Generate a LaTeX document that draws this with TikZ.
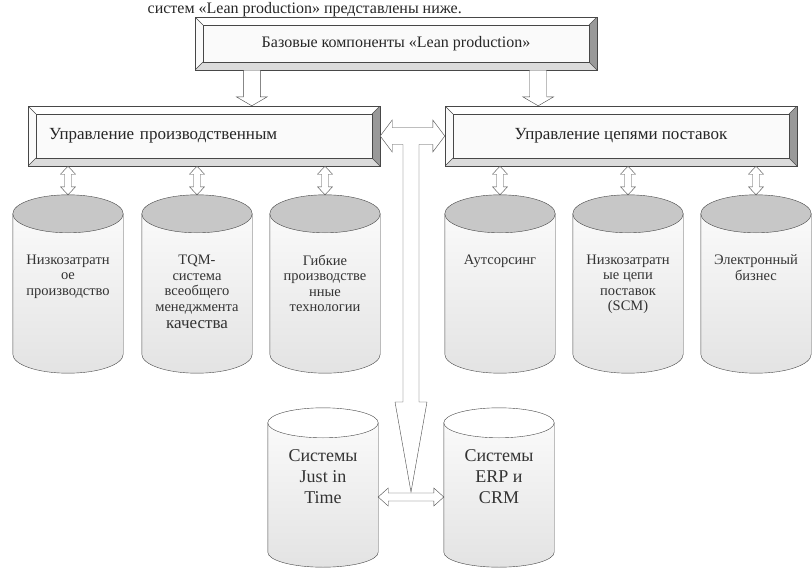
\documentclass[tikz,border=0pt]{standalone}
\usepackage{fontspec}
\setmainfont{Liberation Serif}
\usetikzlibrary{calc}

% cylinder drawn inside the box of a named node: name, y radius, end fill
\newcommand{\drum}[3]{%
  \path[draw=black!72, top color=black!2, bottom color=black!11]
    let \p1=(#1.north west), \p2=(#1.south east), \n1={0.5*(\x2-\x1)} in
    (\x1,\y1-#2pt) -- (\x1,\y2+#2pt)
    arc[start angle=180, end angle=360, x radius=\n1, y radius=#2pt]
    -- (\x2,\y1-#2pt) -- cycle;
  \path[draw=black!72, fill=#3]
    let \p1=(#1.north west), \p2=(#1.south east), \n1={0.5*(\x2-\x1)} in
    ({0.5*(\x1+\x2)},\y1-#2pt) ellipse [x radius=\n1, y radius=#2pt];
}

\begin{document}
\begin{tikzpicture}[x=1pt, y=-1pt,
  frame/.style={draw=black!72, fill=black!2, inner sep=0pt, text=black!85,
    path picture={
      \path (path picture bounding box.north west) coordinate (fa)
            (path picture bounding box.north east) coordinate (fb)
            (path picture bounding box.south east) coordinate (fc)
            (path picture bounding box.south west) coordinate (fd);
      \fill[black!40] (fb) -- (fc) -- ([shift={(-8pt,8pt)}]fc) -- ([shift={(-8pt,-8pt)}]fb) -- cycle;
      \fill[black!14] (fc) -- (fd) -- ([shift={(8pt,8pt)}]fd) -- ([shift={(-8pt,8pt)}]fc) -- cycle;
      \fill[white] (fa) -- (fb) -- ([shift={(-8pt,-8pt)}]fb) -- ([shift={(8pt,-8pt)}]fa) -- cycle;
      \draw[black!72] ([shift={(8pt,-8pt)}]fa) rectangle ([shift={(-8pt,8pt)}]fc);
      \draw[black!72] (fa) -- ++(8pt,-8pt) (fb) -- ++(-8pt,-8pt)
                      (fc) -- ++(-8pt,8pt) (fd) -- ++(8pt,8pt);
    }},
  slot/.style={inner sep=0pt, minimum width=110pt, minimum height=178pt},
  slotlow/.style={slot, minimum height=159pt},
  ctext/.style={align=center, inner sep=0pt, text=black!80,
    font=\fontsize{14.5}{15.5}\selectfont},
  btext/.style={align=center, inner sep=0pt, text=black!80,
    font=\fontsize{18}{21}\selectfont},
  blk/.style={draw=black!72, fill=white, line join=miter},
  dn/.style={to path={let \p1=(\tikztostart), \p2=(\tikztotarget) in
    (\x1-8.5pt,\y1) -- (\x1-8.5pt,\y2+9pt) -- (\x1-15.5pt,\y2+9pt) -- (\x1,\y2)
    -- (\x1+15.5pt,\y2+9pt) -- (\x1+8.5pt,\y2+9pt) -- (\x1+8.5pt,\y1) -- cycle}},
  vdbl/.style={to path={let \p1=(\tikztostart), \p2=(\tikztotarget) in
    (\x1,\y1) -- (\x1-7.5pt,\y1-8pt) -- (\x1-3.5pt,\y1-8pt) -- (\x1-3.5pt,\y2+8pt)
    -- (\x1-7.5pt,\y2+8pt) -- (\x1,\y2) -- (\x1+7.5pt,\y2+8pt) -- (\x1+3.5pt,\y2+8pt)
    -- (\x1+3.5pt,\y1-8pt) -- (\x1+7.5pt,\y1-8pt) -- cycle}},
  hdbl/.style={to path={let \p1=(\tikztostart), \p2=(\tikztotarget) in
    (\x1,\y1) -- (\x1+10pt,\y1+9pt) -- (\x1+10pt,\y1+4pt) -- (\x2-10pt,\y1+4pt)
    -- (\x2-10pt,\y1+9pt) -- (\x2,\y1) -- (\x2-10pt,\y1-9pt) -- (\x2-10pt,\y1-4pt)
    -- (\x1+10pt,\y1-4pt) -- (\x1+10pt,\y1-9pt) -- cycle}},
]
  \useasboundingbox[fill=white] (0,0) rectangle (812,570);

  \node[anchor=base east, inner sep=0pt, text=black!85,
        font=\fontsize{16}{19}\selectfont] (intro) at (462,13)
    {систем «Lean production» представлены ниже.};

  \node[frame, minimum width=402pt, minimum height=53pt,
        font=\fontsize{16}{18}\selectfont] (base) at (396,43.5)
    {Базовые компоненты «Lean production»};
  \node[frame, minimum width=352pt, minimum height=60pt, text width=310pt, align=left,
        font=\fontsize{17}{19}\selectfont] (lbox) at (204,136)
    {Управление производственным};
  \node[frame, minimum width=352pt, minimum height=60pt,
        font=\fontsize{17}{19}\selectfont] (rbox) at (621,136)
    {Управление цепями поставок};

  \node[slot] (c1) at (68,284) {};
  \node[slot] (c2) at (197,284) {};
  \node[slot] (c3) at (325,284) {};
  \node[slot] (c4) at (500,284) {};
  \node[slot] (c5) at (628,284) {};
  \node[slot] (c6) at (756,284) {};
  \foreach \c in {c1,c2,c3,c4,c5,c6} {\drum{\c}{19}{black!22}}

  \node[ctext, anchor=north] (t1) at ([yshift=-60pt]c1.north) {Низкозатратн\\ое\\производство};
  \node[ctext, anchor=north] (t2) at ([yshift=-60pt]c2.north)
    {TQM-\\система\\всеобщего\\менеджмента\\[2pt]{\fontsize{17}{19}\selectfont качества}};
  \node[ctext, anchor=north] (t3) at ([yshift=-60pt]c3.north) {Гибкие\\производстве\\нные\\технологии};
  \node[ctext, anchor=north] (t4) at ([yshift=-60pt]c4.north) {Аутсорсинг};
  \node[ctext, anchor=north] (t5) at ([yshift=-60pt]c5.north) {Низкозатратн\\ые цепи\\поставок\\(SCM)};
  \node[ctext, anchor=north] (t6) at ([yshift=-60pt]c6.north) {Электронный\\бизнес};

  \node[slotlow] (jit) at (323,487.5) {};
  \node[slotlow] (erp) at (499,487.5) {};
  \drum{jit}{15}{white}
  \drum{erp}{15}{white}
  \node[btext, anchor=north] (tj) at ([yshift=-42pt]jit.north) {Системы\\Just in\\Time};
  \node[btext, anchor=north] (te) at ([yshift=-42pt]erp.north) {Системы\\ERP и\\CRM};

  \coordinate (hub) at ($(jit.east)!0.5!(erp.west) + (0,4.5)$);

  \draw[blk] ([xshift=57pt]base.south west) to[dn] (lbox.north);
  \draw[blk] ([xshift=-59pt]base.south east) to[dn] (rbox.north);

  \foreach \c in {c1,c2,c3} \draw[blk] (lbox.south -| \c) to[vdbl] (\c.north);
  \foreach \c in {c4,c5,c6} \draw[blk] (rbox.south -| \c) to[vdbl] (\c.north);

  \draw[blk] let \p1=(lbox.east), \p2=(rbox.west), \p3=(hub) in
    (\x1,\y1) -- (\x1+12pt,\y1+16pt) -- (\x1+12pt,\y1+8.5pt) -- (\x2-12pt,\y1+8.5pt)
    -- (\x2-12pt,\y1+16pt) -- (\x2,\y1) -- (\x2-12pt,\y1-16pt) -- (\x2-12pt,\y1-8.5pt)
    -- (\x3+8pt,\y1-8.5pt) -- (\x3+8pt,\y3+90pt) -- (\x3+16pt,\y3+90pt) -- (\x3,\y3)
    -- (\x3-16pt,\y3+90pt) -- (\x3-8pt,\y3+90pt) -- (\x3-8pt,\y1-8.5pt)
    -- (\x1+12pt,\y1-8.5pt) -- (\x1+12pt,\y1-16pt) -- cycle;

  \draw[blk] ([yshift=-9.5pt]jit.east) to[hdbl] ([yshift=-9.5pt]erp.west);
\end{tikzpicture}
\end{document}
